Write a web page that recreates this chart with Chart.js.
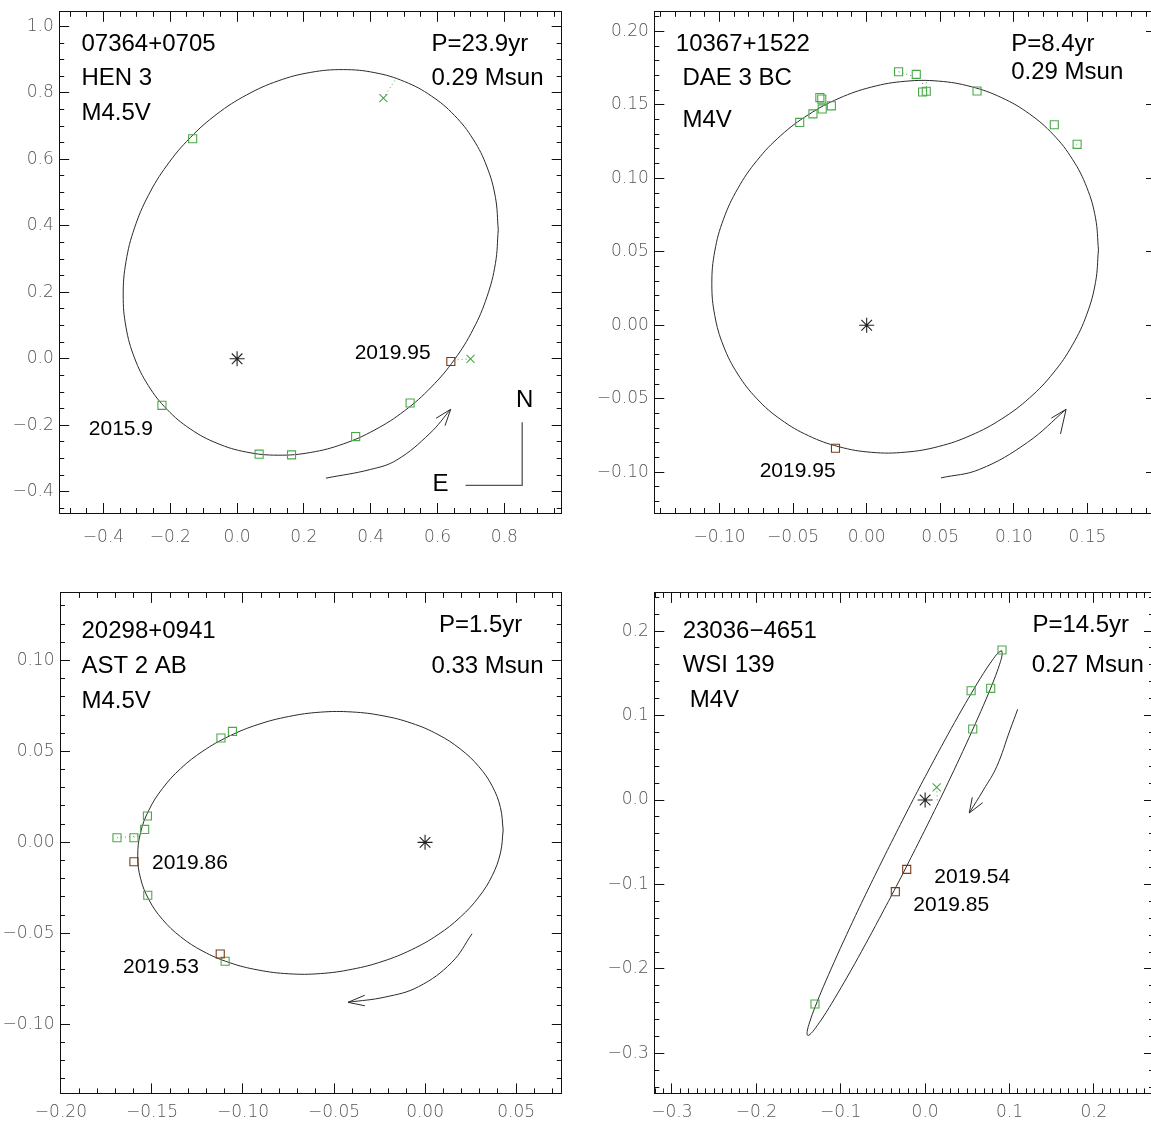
<!DOCTYPE html>
<html><head><meta charset="utf-8">
<script src="https://cdn.jsdelivr.net/npm/chart.js@4.4.1/dist/chart.umd.min.js"></script>
<style>
html,body{margin:0;padding:0;background:#fff;overflow:hidden;width:1151px;height:1125px;}
canvas{position:absolute;}
</style></head><body>
<canvas id="c1" width="580" height="560" style="left:0px;top:0px"></canvas>
<canvas id="c2" width="600" height="560" style="left:575px;top:0px"></canvas>
<canvas id="c3" width="580" height="550" style="left:0px;top:575px"></canvas>
<canvas id="c4" width="600" height="550" style="left:575px;top:575px"></canvas>
<script>
// ---------------- Panel 1 : 07364+0705 HEN 3 ----------------
const p1Orbit = [[0.782,0.388],[0.7735,0.4855],[0.7481,0.5774],[0.7068,0.6605],[0.6506,0.7324],[0.5814,0.7908],[0.5013,0.834],[0.4125,0.8607],[0.318,0.87],[0.2205,0.8617],[0.123,0.8361],[0.0285,0.7938],[-0.0603,0.7363],[-0.1404,0.6651],[-0.2096,0.5826],[-0.2658,0.4912],[-0.3071,0.3937],[-0.3325,0.293],[-0.341,0.1923],[-0.3325,0.0945],[-0.3071,0.0026],[-0.2658,-0.0805],[-0.2096,-0.1524],[-0.1404,-0.2108],[-0.0603,-0.254],[0.0285,-0.2807],[0.123,-0.29],[0.2205,-0.2817],[0.318,-0.2561],[0.4125,-0.2138],[0.5013,-0.1563],[0.5814,-0.0851],[0.6506,-0.0026],[0.7068,0.0888],[0.7481,0.1863],[0.7735,0.287]];
const p1Obs = [[-0.133,0.662],[-0.225,-0.140],[0.066,-0.287],[0.163,-0.289],[0.355,-0.234],[0.518,-0.133]];
const p1Recent = [[0.640,-0.008]];
const p1Cross = [[0.438,0.784],[0.699,0.0]];
const p1Resid = [[0.438,0.784,0.477,0.845],[0.699,0.0,0.648,-0.004]];
const p1Arrow = [[0.266,-0.359],[0.399,-0.333],[0.478,-0.3045],[0.5775,-0.2241],[0.6395,-0.152]];
const p1Head = [[0.5955,-0.179],[0.6395,-0.152],[0.6225,-0.2012]];
const p1Compass = [[0.684,-0.381],[0.8536,-0.381],[0.8536,-0.191]];
const p1Notes = [["07364+0705",-0.466,0.947,"title"],["HEN 3",-0.466,0.843,"title"],["M4.5V",-0.466,0.737,"title"],
  ["P=23.9yr",0.582,0.947,"title"],["0.29 Msun",0.582,0.843,"title"],["2019.95",0.352,0.0174,"date"],["2015.9",-0.444,-0.211,"date"],
  ["N",0.835,-0.125,"title"],["E",0.585,-0.379,"title"]];

// ---------------- Panel 2 : 10367+1522 DAE 3 BC ----------------
const p2Orbit = [[0.1575,0.0513],[0.1555,0.0731],[0.1496,0.0938],[0.1399,0.1129],[0.1268,0.1298],[0.1106,0.1439],[0.0918,0.1549],[0.0711,0.1624],[0.0490,0.1662],[0.0262,0.1661],[0.0034,0.1622],[-0.0188,0.1545],[-0.0395,0.1434],[-0.0583,0.1292],[-0.0745,0.1122],[-0.0876,0.0930],[-0.0973,0.0722],[-0.1032,0.0505],[-0.1052,0.0284],[-0.1032,0.0066],[-0.0973,-0.0141],[-0.0876,-0.0332],[-0.0745,-0.0501],[-0.0583,-0.0642],[-0.0395,-0.0752],[-0.0188,-0.0827],[0.0034,-0.0865],[0.0262,-0.0864],[0.0490,-0.0825],[0.0711,-0.0748],[0.0918,-0.0637],[0.1106,-0.0495],[0.1268,-0.0325],[0.1399,-0.0133],[0.1496,0.0075],[0.1555,0.0292]];
const p2Obs = [[-0.0455,0.1381],[-0.0365,0.1439],[-0.0318,0.1550],[-0.0305,0.1540],[-0.0302,0.1473],[-0.0240,0.1494],[0.0217,0.1726],[0.0337,0.1708],[0.0380,0.1588],[0.0405,0.1593],[0.0750,0.1595],[0.1275,0.1365],[0.1430,0.1232]];
const p2Recent = [[-0.0212,-0.0837]];
const p2Cross = [];
const p2Resid = [[0.0217,0.1726,0.031,0.1697],[0.0380,0.1588,0.0380,0.1655],[0.0405,0.1593,0.0405,0.1662],[0.1430,0.1232,0.1395,0.1200]];
const p2Arrow = [[0.0505,-0.1039],[0.0767,-0.0981],[0.1092,-0.0798],[0.1355,-0.0572]];
const p2Head = [[0.1255,-0.0632],[0.1355,-0.0572],[0.1317,-0.0740]];
const p2Compass = [];
const p2Notes = [["10367+1522",-0.1297,0.1914,"title"],["DAE 3 BC",-0.1252,0.1680,"title"],["M4V",-0.1252,0.1397,"title"],
  ["P=8.4yr",0.0982,0.1914,"title"],["0.29 Msun",0.0982,0.1723,"title"],["2019.95",-0.0727,-0.0993,"date"]];

// ---------------- Panel 3 : 20298+0941 AST 2 AB ----------------
const p3Orbit = [[0.0429,0.0068],[0.0414,0.0191],[0.0369,0.0309],[0.0295,0.0417],[0.0194,0.0513],[0.0071,0.0593],[-0.0073,0.0655],[-0.0231,0.0696],[-0.0400,0.0717],[-0.0575,0.0716],[-0.0749,0.0692],[-0.0918,0.0648],[-0.1076,0.0584],[-0.1220,0.0502],[-0.1343,0.0405],[-0.1443,0.0295],[-0.1517,0.0177],[-0.1563,0.0052],[-0.1578,-0.0074],[-0.1563,-0.0197],[-0.1517,-0.0315],[-0.1443,-0.0423],[-0.1343,-0.0519],[-0.1220,-0.0599],[-0.1076,-0.0661],[-0.0918,-0.0702],[-0.0749,-0.0723],[-0.0575,-0.0722],[-0.0400,-0.0698],[-0.0231,-0.0654],[-0.0073,-0.0590],[0.0071,-0.0508],[0.0194,-0.0411],[0.0295,-0.0301],[0.0369,-0.0183],[0.0414,-0.0058]];
const p3Obs = [[-0.1692,0.0025],[-0.1599,0.0025],[-0.1540,0.0071],[-0.1525,0.0145],[-0.1523,-0.0291],[-0.1121,0.0574],[-0.1058,0.0610],[-0.1098,-0.0654]];
const p3Recent = [[-0.1599,-0.0107],[-0.1125,-0.0614]];
const p3Cross = [];
const p3Resid = [[-0.1692,0.0025,-0.1575,0.0035],[-0.1599,0.0025,-0.1553,0.0062]];
const p3Arrow = [[0.0258,-0.0503],[0.0147,-0.0660],[-0.0036,-0.0794],[-0.0219,-0.0851],[-0.0423,-0.0880]];
const p3Head = [[-0.0331,-0.0841],[-0.0423,-0.0880],[-0.0331,-0.0899]];
const p3Compass = [];
const p3Notes = [["20298+0941",-0.1887,0.1161,"title"],["AST 2 AB",-0.1887,0.0969,"title"],["M4.5V",-0.1887,0.0774,"title"],
  ["P=1.5yr",0.0076,0.1195,"title"],["0.33 Msun",0.0035,0.0969,"title"],["2019.86",-0.150,-0.0113,"date"],["2019.53",-0.1659,-0.0689,"date"]];

// ---------------- Panel 4 : 23036-4651 WSI 139 ----------------
const p4Orbit = [[0.0908,0.1768],[0.0868,0.1745],[0.0795,0.1653],[0.0689,0.1496],[0.0556,0.1277],[0.0398,0.1005],[0.0221,0.0686],[0.0030,0.0331],[-0.0170,-0.0049],[-0.0371,-0.0444],[-0.0569,-0.0840],[-0.0757,-0.1226],[-0.0929,-0.1591],[-0.1080,-0.1923],[-0.1206,-0.2211],[-0.1303,-0.2448],[-0.1367,-0.2626],[-0.1397,-0.2740],[-0.1392,-0.2786],[-0.1352,-0.2763],[-0.1279,-0.2671],[-0.1173,-0.2514],[-0.1040,-0.2295],[-0.0882,-0.2023],[-0.0705,-0.1704],[-0.0514,-0.1349],[-0.0314,-0.0969],[-0.0113,-0.0574],[0.0085,-0.0178],[0.0273,0.0208],[0.0445,0.0573],[0.0596,0.0905],[0.0722,0.1193],[0.0819,0.1430],[0.0883,0.1608],[0.0913,0.1722]];
const p4Obs = [[0.0911,0.1776],[0.0545,0.1294],[0.0777,0.1322],[0.0564,0.0841],[-0.1305,-0.2415]];
const p4Recent = [[-0.0218,-0.0821],[-0.0353,-0.1085]];
const p4Cross = [[0.0137,0.0150]];
const p4Resid = [[0.0137,0.0150,0.0145,-0.0039]];
const p4Arrow = [[0.1097,0.1074],[0.1006,0.0829],[0.0848,0.0395],[0.0690,0.0118],[0.0523,-0.0153]];
const p4Head = [[0.0559,0.0032],[0.0523,-0.0153],[0.0682,-0.0032]];
const p4Compass = [];
const p4Notes = [["23036\u22124651",-0.2873,0.1996,"title"],["WSI 139",-0.2873,0.1596,"title"],["M4V",-0.2790,0.1184,"title"],
  ["P=14.5yr",0.1271,0.2069,"title"],["0.27 Msun",0.1263,0.1596,"title"],["2019.54",0.0109,-0.0915,"date"],["2019.85",-0.0140,-0.1243,"date"]];

const primary = [[0,0]];

// ---------------- styling / layout ----------------
const GREEN = '#4aa84a', BROWN = '#7a3a14', LINE = '#2a2a2a';
const noteFonts = {title: '24px "Liberation Sans", Arial, sans-serif', date: '21px "Liberation Sans", Arial, sans-serif'};

const panels = [
  {id:'c1', orbit:p1Orbit, obs:p1Obs, recent:p1Recent, cross:p1Cross, resid:p1Resid, arrow:p1Arrow, head:p1Head, compass:p1Compass, notes:p1Notes,
   xr:[-0.5326,0.9719], yr:[-0.4639,1.0439], xMaj:0.2, xMin:0.05, yMaj:0.2, yMin:0.05, dec:1,
   leftW:59.2, padT:11.8, padR:18.3, bottomH:47, xPad:24, yPad:15.5},
  {id:'c2', orbit:p2Orbit, obs:p2Obs, recent:p2Recent, cross:p2Cross, resid:p2Resid, arrow:p2Arrow, head:p2Head, compass:p2Compass, notes:p2Notes,
   xr:[-0.1443,0.1966], yr:[-0.1278,0.2134], xMaj:0.05, xMin:0.01, yMaj:0.05, yMin:0.01, dec:2,
   leftW:79.3, padT:11.8, padR:19, bottomH:47, xPad:24, yPad:15.5},
  {id:'c3', orbit:p3Orbit, obs:p3Obs, recent:p3Recent, cross:p3Cross, resid:p3Resid, arrow:p3Arrow, head:p3Head, compass:p3Compass, notes:p3Notes,
   xr:[-0.2005,0.0751], yr:[-0.1381,0.1372], xMaj:0.05, xMin:0.01, yMaj:0.05, yMin:0.01, dec:2,
   leftW:60, padT:17.9, padR:18.2, bottomH:31.6, xPad:19, yPad:15.5},
  {id:'c4', orbit:p4Orbit, obs:p4Obs, recent:p4Recent, cross:p4Cross, resid:p4Resid, arrow:p4Arrow, head:p4Head, compass:p4Compass, notes:p4Notes,
   xr:[-0.3209,0.2712], yr:[-0.3473,0.2452], xMaj:0.1, xMin:0.01, yMaj:0.1, yMin:0.02, dec:1,
   leftW:79.3, padT:17.9, padR:21, bottomH:31.6, xPad:19, yPad:15.5}
];

const pts = a => a.map(([x,y]) => ({x, y}));

function makeScales(g) {
  const tickFont = {family: '"DejaVu Sans", sans-serif', size: 17, weight: 200};
  const fmt = v => (Math.abs(v) < 1e-9 ? 0 : v).toFixed(g.dec).replace('-', '\u2212');
  const axis = (pos, min, max, step, tl, weight, size, showLabels, pad, border) => ({
    type: 'linear', position: pos, min, max, weight,
    afterFit: s => {
      if (pos === 'left' || pos === 'right') s.width = size; else s.height = size;
      s.paddingTop = 0; s.paddingBottom = 0; s.paddingLeft = 0; s.paddingRight = 0;
    },
    ticks: {display: showLabels, stepSize: step, includeBounds: false, autoSkip: false, maxRotation: 0, minRotation: 0,
            padding: pad, color: '#555', font: tickFont, callback: fmt},
    grid: {display: true, drawOnChartArea: false, drawTicks: true, tickLength: tl, color: '#111', lineWidth: 1},
    border: {display: border, color: '#111', width: 1}
  });
  return {
    x:   axis('bottom', g.xr[0], g.xr[1], g.xMaj, -10, 1, g.bottomH, true, g.xPad, true),
    xm:  axis('bottom', g.xr[0], g.xr[1], g.xMin, -5, 0, 0, false, 0, false),
    xt:  axis('top', g.xr[0], g.xr[1], g.xMaj, -10, 1, 0, false, 0, true),
    xtm: axis('top', g.xr[0], g.xr[1], g.xMin, -5, 0, 0, false, 0, false),
    y:   axis('left', g.yr[0], g.yr[1], g.yMaj, -10, 1, g.leftW, true, g.yPad, true),
    ym:  axis('left', g.yr[0], g.yr[1], g.yMin, -5, 0, 0, false, 0, false),
    yt:  axis('right', g.yr[0], g.yr[1], g.yMaj, -10, 1, 0, false, 0, true),
    ytm: axis('right', g.yr[0], g.yr[1], g.yMin, -5, 0, 0, false, 0, false)
  };
}

const notesPlugin = {
  id: 'notes',
  afterDatasetsDraw(chart) {
    const items = chart.options.plugins.notes.items;
    const {ctx, scales: {x, y}} = chart;
    ctx.save();
    ctx.fillStyle = '#000';
    ctx.textAlign = 'left';
    ctx.textBaseline = 'middle';
    for (const [text, vx, vy, kind] of items) {
      ctx.font = noteFonts[kind];
      ctx.fillText(text, x.getPixelForValue(vx), y.getPixelForValue(vy));
    }
    ctx.restore();
  }
};

function lineSet(data, color, width, tension, dash) {
  return {data: pts(data), showLine: true, tension, borderColor: color, borderWidth: width,
          borderDash: dash || [], pointRadius: 0, fill: false, clip: false};
}
function markSet(data, style, color, radius) {
  return {data: pts(data), showLine: false, pointStyle: style, pointRadius: radius,
          pointBorderColor: color, pointBackgroundColor: 'rgba(0,0,0,0)', pointBorderWidth: 1.1,
          borderColor: color, backgroundColor: 'rgba(0,0,0,0)'};
}

panels.forEach(g => {
  const datasets = [
    markSet(primary, 'star', '#222', 7.5),
    markSet(g.recent, 'rect', BROWN, 5.7),
    markSet(g.obs, 'rect', GREEN, 5.7),
    markSet(g.cross, 'crossRot', GREEN, 5.7),
    ...g.resid.map(s => lineSet([[s[0], s[1]], [s[2], s[3]]], GREEN, 1, 0, [1, 3])),
    lineSet(g.orbit.concat([g.orbit[0]]), LINE, 1, 0.4),
    lineSet(g.arrow, LINE, 1, 0.4),
    lineSet(g.head, LINE, 1, 0)
  ];
  if (g.compass.length) datasets.push(lineSet(g.compass, '#555', 1.3, 0));
  new Chart(document.getElementById(g.id), {
    type: 'scatter',
    data: {datasets},
    options: {
      responsive: false, animation: false, devicePixelRatio: 1, events: [],
      layout: {padding: {left: 0, top: g.padT, right: g.padR, bottom: 0}, autoPadding: false},
      plugins: {legend: {display: false}, tooltip: {enabled: false}, notes: {items: g.notes}},
      scales: makeScales(g)
    },
    plugins: [notesPlugin]
  });
});
</script>
</body></html>
